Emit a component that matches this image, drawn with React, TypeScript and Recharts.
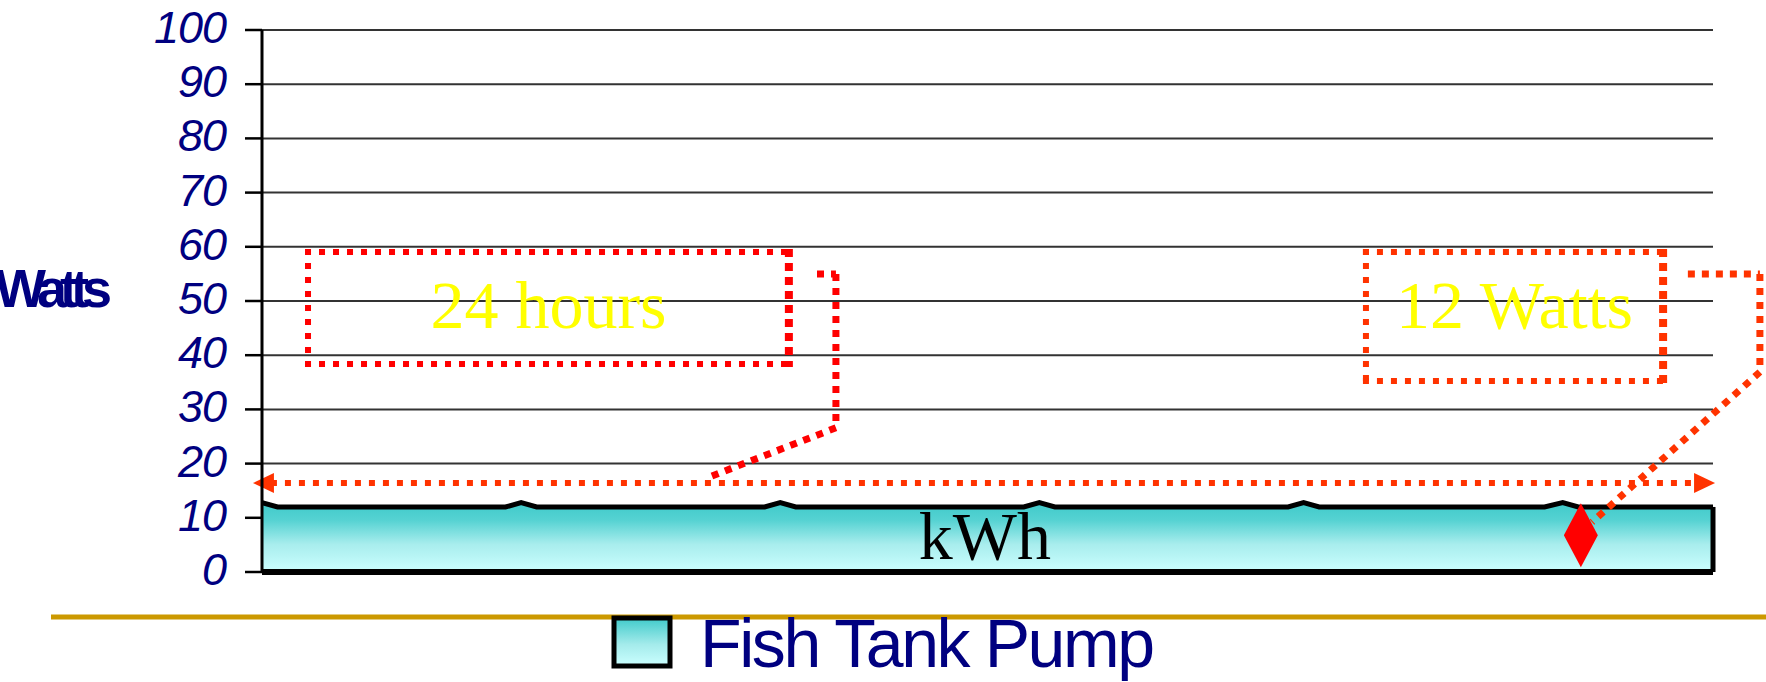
import React from "react";
import {
  AreaChart,
  Area,
  XAxis,
  YAxis,
  CartesianGrid,
  ReferenceLine,
  ReferenceArea,
  ReferenceDot,
  Legend,
  Label,
} from "recharts";

// position along the day (0..56 steps) and the pump's draw in watts
const samplePos = [0, 0.6, 9.4, 10.0, 10.6, 19.4, 20.0, 20.6, 29.4, 30.0, 30.6, 39.6, 40.2, 40.8, 49.5, 50.2, 50.8, 56];
const pumpWatts = [12.8, 12, 12, 12.8, 12, 12, 12.8, 12, 12, 12.8, 12, 12, 12.8, 12, 12, 12.8, 12, 12];
const yTicks = [0, 10, 20, 30, 40, 50, 60, 70, 80, 90, 100];
const seriesName = "Fish Tank Pump";
const axisTitle = "Watts";
const areaText = "kWh";

// callouts, in chart units
const hoursBox = { x1: 1.66, x2: 20.45, y1: 37.8, y2: 59.6, text: "24 hours" };
const hoursLeader = [
  { x: 21.42, y: 55 },
  { x: 22.15, y: 55 },
  { x: 22.15, y: 26.6 },
  { x: 17.14, y: 17.3 },
];
const wattsBox = { x1: 42.49, x2: 54.19, y1: 34.7, y2: 59.6, text: "12 Watts" };
const wattsLeader = [
  { x: 55.03, y: 55 },
  { x: 57.81, y: 55 },
  { x: 57.81, y: 36.9 },
  { x: 51.33, y: 9.2 },
];
const spanArrow = [
  { x: -0.35, y: 16.4 },
  { x: 56.08, y: 16.4 },
];
const markerSpot = { x: 50.9, y: 6.8 };
const textSpot = { x: 27.9, y: 6.55 };

const data = samplePos.map((pos, i) => ({ pos, watts: pumpWatts[i] }));
const last = data[data.length - 1];

const NAVY = "#000080";
const SANS = "'Liberation Sans', Arial, sans-serif";
const SERIF = "'Liberation Serif', 'Times New Roman', serif";

const YTick = ({ x, y, payload }: any) => (
  <text
    x={x}
    y={y}
    dy={13}
    textAnchor="end"
    fill={NAVY}
    fontSize={45}
    fontStyle="italic"
    fontFamily={SANS}
    letterSpacing={-1}
  >
    {payload.value}
  </text>
);

const ArrowShape = ({ x1, y1, x2, y2 }: any) => (
  <g>
    <line
      x1={x1 + 18}
      y1={y1}
      x2={x2 - 18}
      y2={y2}
      stroke="#FF3300"
      strokeWidth={6}
      strokeDasharray="6 8"
    />
    <polygon points={`${x1},${y1} ${x1 + 21},${y1 - 10} ${x1 + 21},${y1 + 10}`} fill="#FF3300" />
    <polygon points={`${x2},${y2} ${x2 - 21},${y2 - 10} ${x2 - 21},${y2 + 10}`} fill="#FF3300" />
  </g>
);

const dottedSegment = (color: string) => ({ x1, y1, x2, y2 }: any) => (
  <line
    x1={x1}
    y1={y1}
    x2={x2}
    y2={y2}
    stroke={color}
    strokeWidth={7}
    strokeDasharray="7 7"
  />
);

const dottedBox = (color: string) => ({ x, y, width, height }: any) => (
  <g fill="none" stroke={color} strokeDasharray="6 8">
    <line x1={x} y1={y + 3} x2={x + width} y2={y + 3} strokeWidth={6} />
    <line x1={x} y1={y + height - 3} x2={x + width} y2={y + height - 3} strokeWidth={6} />
    <line x1={x + 3} y1={y} x2={x + 3} y2={y + height} strokeWidth={6} />
    <line x1={x + width - 3} y1={y} x2={x + width - 3} y2={y + height} strokeWidth={8} strokeDasharray="8 6" />
  </g>
);

const boxText = (text: string) => (p: any) => {
  const vb = p.viewBox;
  return (
    <text
      x={vb.x + vb.width / 2}
      y={vb.y + 79}
      textAnchor="middle"
      fill="#FFFF00"
      fontSize={68}
      fontFamily={SERIF}
    >
      {text}
    </text>
  );
};

const DiamondShape = ({ cx, cy }: any) => (
  <polygon
    points={`${cx},${cy - 32} ${cx + 17},${cy} ${cx},${cy + 32} ${cx - 17},${cy}`}
    fill="#FF0000"
  />
);

const AreaText = ({ cx, cy }: any) => (
  <text x={cx} y={cy + 23} textAnchor="middle" fill="#000" fontSize={68} fontFamily={SERIF}>
    {areaText}
  </text>
);

const renderLegend = (props: any) => {
  const entry = props.payload && props.payload[0];
  const name = entry ? entry.value : seriesName;
  return (
    <svg width={1766} height={82} style={{ display: "block", overflow: "visible" }}>
      <defs>
        <linearGradient id="legendFill" x1="0" y1="0" x2="0" y2="1">
          <stop offset="0%" stopColor="#3FCACA" />
          <stop offset="55%" stopColor="#A4EBEB" />
          <stop offset="100%" stopColor="#CCFFFF" />
        </linearGradient>
      </defs>
      <line x1={51} y1={17} x2={1766} y2={17} stroke="#CC9900" strokeWidth={5} />
      <rect x={614} y={18} width={56} height={48} fill="url(#legendFill)" stroke="#000" strokeWidth={5} />
      <text x={700} y={67} fill={NAVY} fontSize={68} fontFamily={SANS} letterSpacing={-2.4}>
        {name}
      </text>
    </svg>
  );
};

const leaderLines = (pts: { x: number; y: number }[], color: string, key: string) =>
  pts.slice(1).map((p, i) => (
    <ReferenceLine
      key={`${key}-${i}`}
      segment={[pts[i], p]}
      shape={dottedSegment(color)}
      ifOverflow="visible"
    />
  ));

const App = () => {
  return (
    <div style={{ position: "absolute", left: 0, top: 0 }}>
      <AreaChart
        width={1766}
        height={682}
        data={data}
        margin={{ top: 30, right: 53, bottom: 110, left: 0 }}
      >
        <defs>
          <linearGradient id="pumpFill" x1="0" y1="0" x2="0" y2="1">
            <stop offset="0%" stopColor="#3FCACA" />
            <stop offset="25%" stopColor="#55D2D2" />
            <stop offset="60%" stopColor="#A8EDED" />
            <stop offset="100%" stopColor="#CCFFFF" />
          </linearGradient>
        </defs>
        <CartesianGrid vertical={false} stroke="#333333" strokeWidth={2} />
        <XAxis dataKey="pos" type="number" domain={[0, 56]} hide allowDataOverflow />
        <YAxis
          width={262}
          domain={[0, 100]}
          ticks={yTicks}
          interval={0}
          tickSize={17}
          tickMargin={19}
          tick={<YTick />}
          tickLine={{ stroke: "#000", strokeWidth: 2.5 }}
          axisLine={{ stroke: "#000", strokeWidth: 3 }}
        >
          <Label
            content={(p: any) => {
              const vb = p.viewBox || { y: 30, height: 542 };
              return (
                <text
                  x={-5}
                  y={vb.y + vb.height / 2 + 6}
                  fill={NAVY}
                  fontSize={54}
                  fontWeight="bold"
                  fontFamily={SANS}
                  letterSpacing={-7}
                >
                  {axisTitle}
                </text>
              );
            }}
          />
        </YAxis>
        <Area
          type="linear"
          dataKey="watts"
          name={seriesName}
          stroke="#000"
          strokeWidth={5}
          fill="url(#pumpFill)"
          fillOpacity={1}
          isAnimationActive={false}
          dot={false}
          activeDot={false}
        />
        <ReferenceLine y={0} stroke="#000" strokeWidth={6} />
        <ReferenceLine
          segment={[
            { x: last.pos, y: 0 },
            { x: last.pos, y: last.watts },
          ]}
          stroke="#000"
          strokeWidth={5}
          ifOverflow="visible"
        />
        <ReferenceDot
          x={textSpot.x}
          y={textSpot.y}
          r={0}
          shape={<AreaText />}
          ifOverflow="visible"
        />
        <ReferenceArea
          x1={hoursBox.x1}
          x2={hoursBox.x2}
          y1={hoursBox.y1}
          y2={hoursBox.y2}
          shape={dottedBox("#FF0000")}
          ifOverflow="visible"
        >
          <Label content={boxText(hoursBox.text)} />
        </ReferenceArea>
        {leaderLines(hoursLeader, "#FF0000", "hours")}
        <ReferenceArea
          x1={wattsBox.x1}
          x2={wattsBox.x2}
          y1={wattsBox.y1}
          y2={wattsBox.y2}
          shape={dottedBox("#FF3300")}
          ifOverflow="visible"
        >
          <Label content={boxText(wattsBox.text)} />
        </ReferenceArea>
        {leaderLines(wattsLeader, "#FF3300", "watts")}
        <ReferenceLine segment={spanArrow} shape={<ArrowShape />} ifOverflow="visible" />
        <ReferenceDot
          x={markerSpot.x}
          y={markerSpot.y}
          r={0}
          shape={<DiamondShape />}
          ifOverflow="visible"
        />
        <Legend
          verticalAlign="bottom"
          content={renderLegend}
          wrapperStyle={{ position: "absolute", left: 0, top: 600, width: 1766, height: 0 }}
        />
      </AreaChart>
    </div>
  );
};

export default App;
